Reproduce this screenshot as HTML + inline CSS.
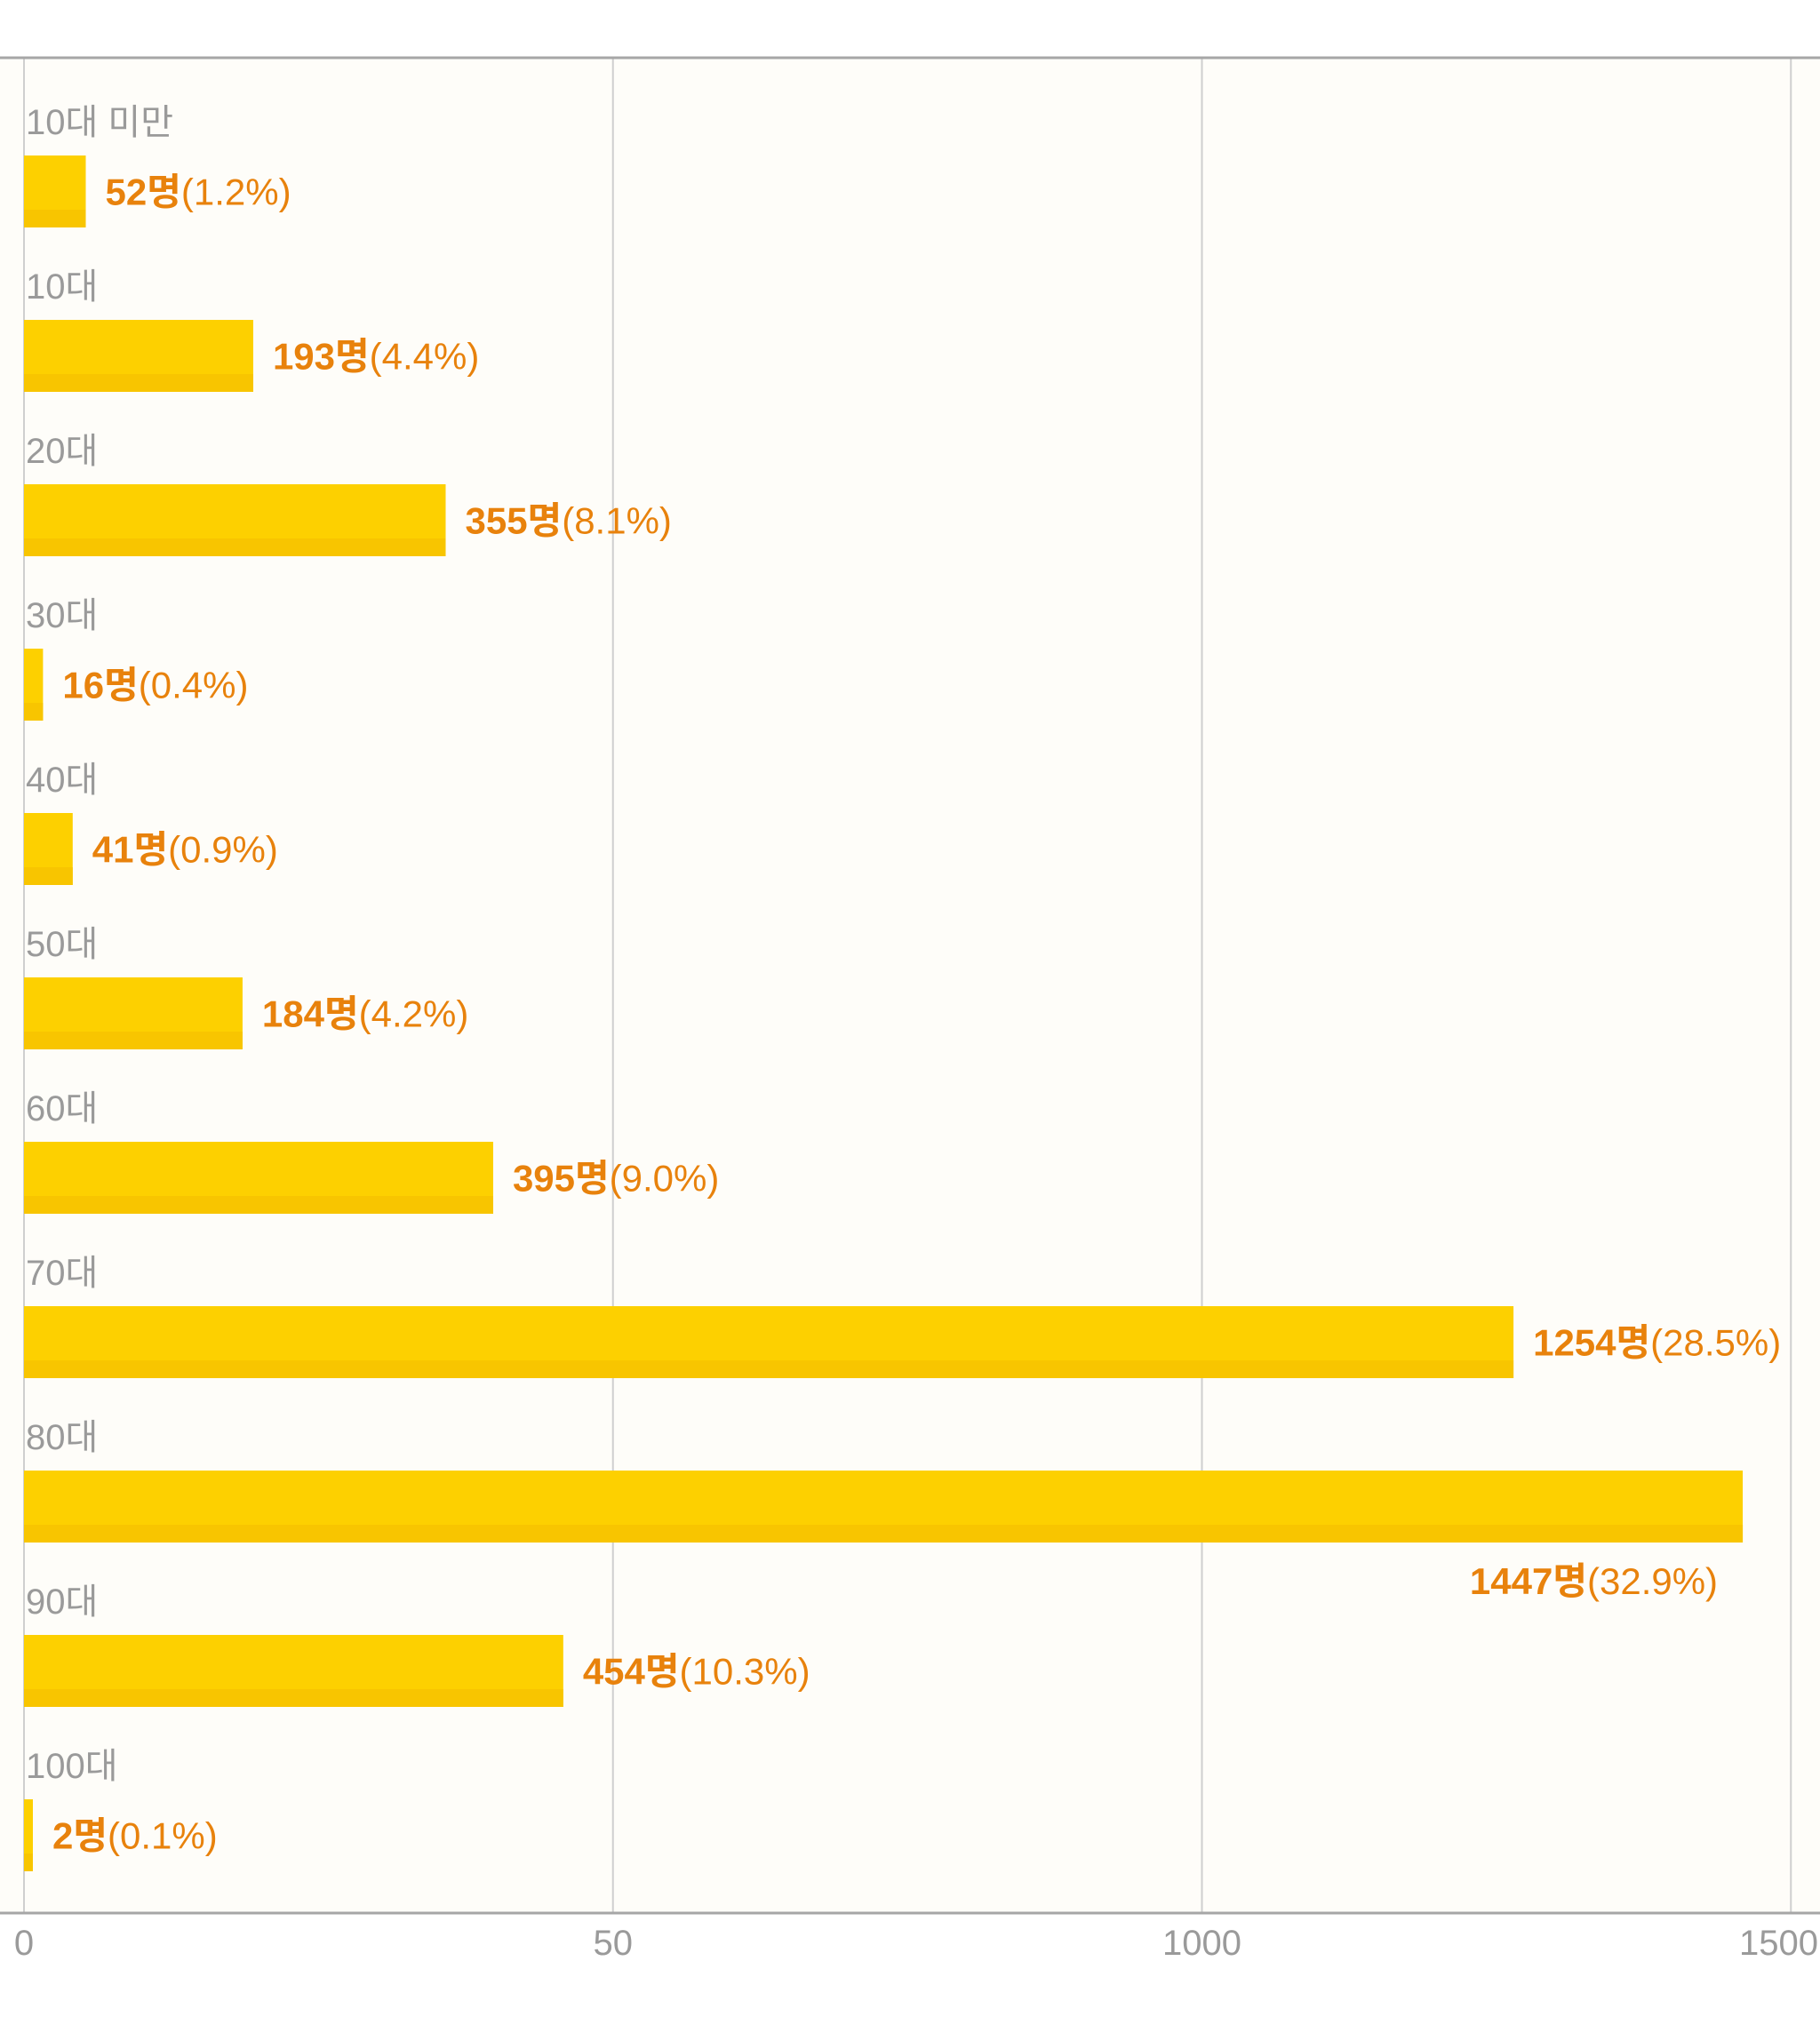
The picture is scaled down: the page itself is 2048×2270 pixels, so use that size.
<!DOCTYPE html>
<html><head><meta charset="utf-8"><style>
html,body{margin:0;padding:0;background:#fff;}
svg{display:block;}
text{font-family:"Liberation Sans","Noto Sans CJK KR",sans-serif;}
</style></head><body>
<svg id="chart" width="2048" height="2270" viewBox="0 0 2048 2270" xmlns="http://www.w3.org/2000/svg">
<rect x="0" y="65" width="2048" height="2088" fill="#fefdf9"/>
<g id="grid"></g>
<g id="bars"></g>
<g id="labels"></g>
<line x1="0" y1="65" x2="2048" y2="65" stroke="#a6a6a6" stroke-width="3"/>
<line x1="0" y1="2153" x2="2048" y2="2153" stroke="#a6a6a6" stroke-width="3"/>
<g id="ticks"></g>
</svg>
<script>
const categories = ["10대 미만","10대","20대","30대","40대","50대","60대","70대","80대","90대","100대"];
const counts = [52,193,355,16,41,184,395,1254,1447,454,2];
const percents = ["1.2%","4.4%","8.1%","0.4%","0.9%","4.2%","9.0%","28.5%","32.9%","10.3%","0.1%"];
const tickValues = [0,500,1000,1500];
const tickLabels = ["0","50","1000","1500"];

const NS = "http://www.w3.org/2000/svg";
const x0 = 27;
function xBar(v){ return x0 + v * 1.3366; }
function xTick(v){ return x0 + v * 1.3255; }
function yRow(i){ return 175 + i * 185; }
const barH = 81;

function mk(tag, attrs, parent){
  const e = document.createElementNS(NS, tag);
  for (const k in attrs) e.setAttribute(k, attrs[k]);
  parent.appendChild(e);
  return e;
}
const grid = document.getElementById('grid');
const ticks = document.getElementById('ticks');
tickValues.forEach((v, i) => {
  const l = mk('line', {x1: xTick(v), x2: xTick(v), y1: 65, y2: 2153, stroke: '#cfcfcf', 'stroke-width': 2}, grid);
  
  
  const last = i === tickValues.length - 1;
  const t = mk('text', {x: last ? 2046 : xTick(v), y: 2200, 'text-anchor': last ? 'end' : 'middle', 'font-size': 40, fill: '#9a9a9a'}, ticks);
  t.textContent = tickLabels[i];
  
  
});

const bars = document.getElementById('bars');
const labels = document.getElementById('labels');
categories.forEach((c, i) => {
  const y = yRow(i);
  const w = Math.max(xBar(counts[i]) - x0, 10);
  const cl = mk('text', {x: 29, y: y - 24, 'font-size': 40, fill: '#9a9a9a'}, labels);
  cl.textContent = c;
  
  

  const b = mk('rect', {x: x0, y: y, width: w, height: barH, fill: '#fdd000'}, bars);
  
  
  const s = mk('rect', {x: x0, y: y + barH - 20, width: w, height: 20, fill: '#f8c500'}, bars);
  
  

  let tx, ty, anchor;
  if (counts[i] > 1350) { tx = xBar(counts[i]) - 28; ty = y + barH + 58; anchor = 'end'; }
  else { tx = x0 + w + 22; ty = y + barH / 2 + 15; anchor = 'start'; }
  const vl = mk('text', {x: tx, y: ty, 'font-size': 42, fill: '#e8820c', 'text-anchor': anchor}, labels);
  const b1 = mk('tspan', {'font-weight': 'bold'}, vl);
  b1.textContent = counts[i] + '명';
  const b2 = mk('tspan', {}, vl);
  b2.textContent = '(' + percents[i] + ')';
  
  
});
</script>
</body></html>
